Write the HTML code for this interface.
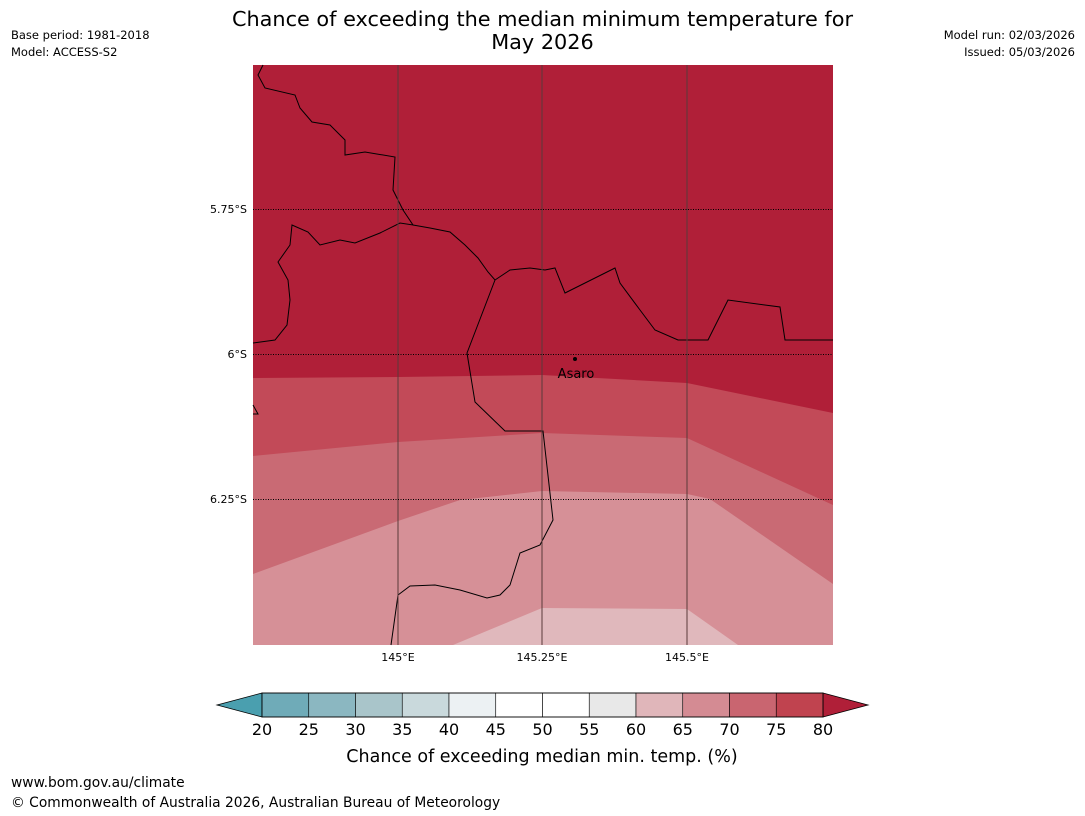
<!DOCTYPE html>
<html><head><meta charset="utf-8"><style>
body{margin:0;width:1085px;height:816px;background:#fff;font-family:"Liberation Sans","DejaVu Sans",sans-serif;overflow:hidden;position:relative}
.t{position:absolute;white-space:nowrap}
</style></head><body>
<div class="t" style="left:0;width:1085px;top:8px;text-align:center;font-size:20.8px;line-height:23px;font-family:'DejaVu Sans',sans-serif">Chance of exceeding the median minimum temperature for<br>May 2026</div>
<div class="t" style="left:11px;top:27px;font-size:11.5px;line-height:17px;font-family:'DejaVu Sans',sans-serif">Base period: 1981-2018<br>Model: ACCESS-S2</div>
<div class="t" style="right:10px;top:27px;font-size:11.5px;line-height:17px;text-align:right;font-family:'DejaVu Sans',sans-serif">Model run: 02/03/2026<br>Issued: 05/03/2026</div>
<div class="t" style="left:11px;top:775px;font-size:13.8px;font-family:'DejaVu Sans',sans-serif">www.bom.gov.au/climate</div>
<div class="t" style="left:11px;top:795px;font-size:13.8px;font-family:'DejaVu Sans',sans-serif">© Commonwealth of Australia 2026, Australian Bureau of Meteorology</div>
<svg width="1085" height="816" style="position:absolute;left:0;top:0" font-family="DejaVu Sans, sans-serif">
<g>
<rect x="253" y="65" width="580" height="580" fill="#b01f38"/>
<polygon fill="#c24a58" points="253,378 398,377 542,375 687,383 833,413 833,645 253,645"/>
<polygon fill="#c96a74" points="253,456 398,442 542,433 687,438 833,505 833,645 253,645"/>
<polygon fill="#d69097" points="253,574 398,521 460,500 542,491 687,494 710,499 833,584 833,645 253,645"/>
<polygon fill="#e0b8bc" points="453,645 542,608 687,609 738,645"/>
<g stroke="#000" stroke-width="1" fill="none">
<polyline points="263,65 258,75 265,88 295,95 300,108 312,122 330,125 345,140 345,155 365,152 395,157 393,190 403,210 413,225 400,223 380,233 355,243 340,240 320,245 308,232 292,225 290,245 278,262 288,280 290,300 287,325 275,340 253,343"/>
<polyline points="413,225 430,228 450,232 465,245 478,258 488,272 495,280 510,270 530,268 545,270 555,268 565,293 615,268 620,283 640,310 655,330 678,340 708,340 728,300 780,307 785,340 833,340"/>
<polyline points="495,280 467,353 475,402 505,431 543,431 553,520 540,545 520,553 510,585 500,595 487,598 460,590 435,585 410,586 398,595 391,645"/>
<polyline points="253,405 258,414 253,414"/>
</g>
<g stroke="#5a3a3a" stroke-width="1">
<line x1="398" y1="65" x2="398" y2="645"/><line x1="542" y1="65" x2="542" y2="645"/><line x1="687" y1="65" x2="687" y2="645"/>
</g>
<g stroke="#000" stroke-width="1" stroke-dasharray="1,1.5">
<line x1="253" y1="209.5" x2="833" y2="209.5"/><line x1="253" y1="354.5" x2="833" y2="354.5"/><line x1="253" y1="499.5" x2="833" y2="499.5"/>
</g>
<circle cx="575" cy="359" r="2" fill="#000"/>
<text x="576" y="378" font-size="13" text-anchor="middle">Asaro</text>
<g font-size="11" text-anchor="end">
<text x="247" y="213">5.75°S</text><text x="247" y="358">6°S</text><text x="247" y="503">6.25°S</text>
</g>
<g font-size="11" text-anchor="middle">
<text x="398" y="661">145°E</text><text x="542" y="661">145.25°E</text><text x="687" y="661">145.5°E</text>
</g>
</g>
<g id="cb"></g>
<text x="542" y="762" font-size="17.5" text-anchor="middle">Chance of exceeding median min. temp. (%)</text>
</svg>
<script>
const binEdges=[20,25,30,35,40,45,50,55,60,65,70,75,80];
const binColors=["#6fabb8","#8bb7c1","#a9c5ca","#c9d9dc","#ecf1f3","#ffffff","#ffffff","#e8e8e8","#e0b6ba","#d48b93","#c96570","#c0434f"];
const cb=document.getElementById('cb');
const ns="http://www.w3.org/2000/svg";
const x0=262,x1=823,y0=693,h=24;
const sx=v=>x0+(v-binEdges[0])/(binEdges[binEdges.length-1]-binEdges[0])*(x1-x0);
function mk(tag,a){const e=document.createElementNS(ns,tag);for(const k in a)e.setAttribute(k,a[k]);cb.appendChild(e);return e;}
let l=mk('polygon',{points:`${x0},${y0} ${x0},${y0+h} 217,${y0+h/2}`,fill:"#4a9faf",stroke:"#000","stroke-width":0.8});


let r=mk('polygon',{points:`${x1},${y0} ${x1},${y0+h} 868,${y0+h/2}`,fill:"#b01f38",stroke:"#000","stroke-width":0.8});


for(let i=0;i<binColors.length;i++){
 const b=mk('rect',{x:sx(binEdges[i]),y:y0,width:sx(binEdges[i+1])-sx(binEdges[i]),height:h,fill:binColors[i],stroke:"#000","stroke-width":0.6});
 
 
}
mk('rect',{x:x0,y:y0,width:x1-x0,height:h,fill:"none",stroke:"#000","stroke-width":0.8});
for(const v of binEdges){
 const t=mk('text',{x:sx(v),y:735,"font-size":16,"text-anchor":"middle"});t.textContent=v;
 
 
}
</script>
</body></html>
